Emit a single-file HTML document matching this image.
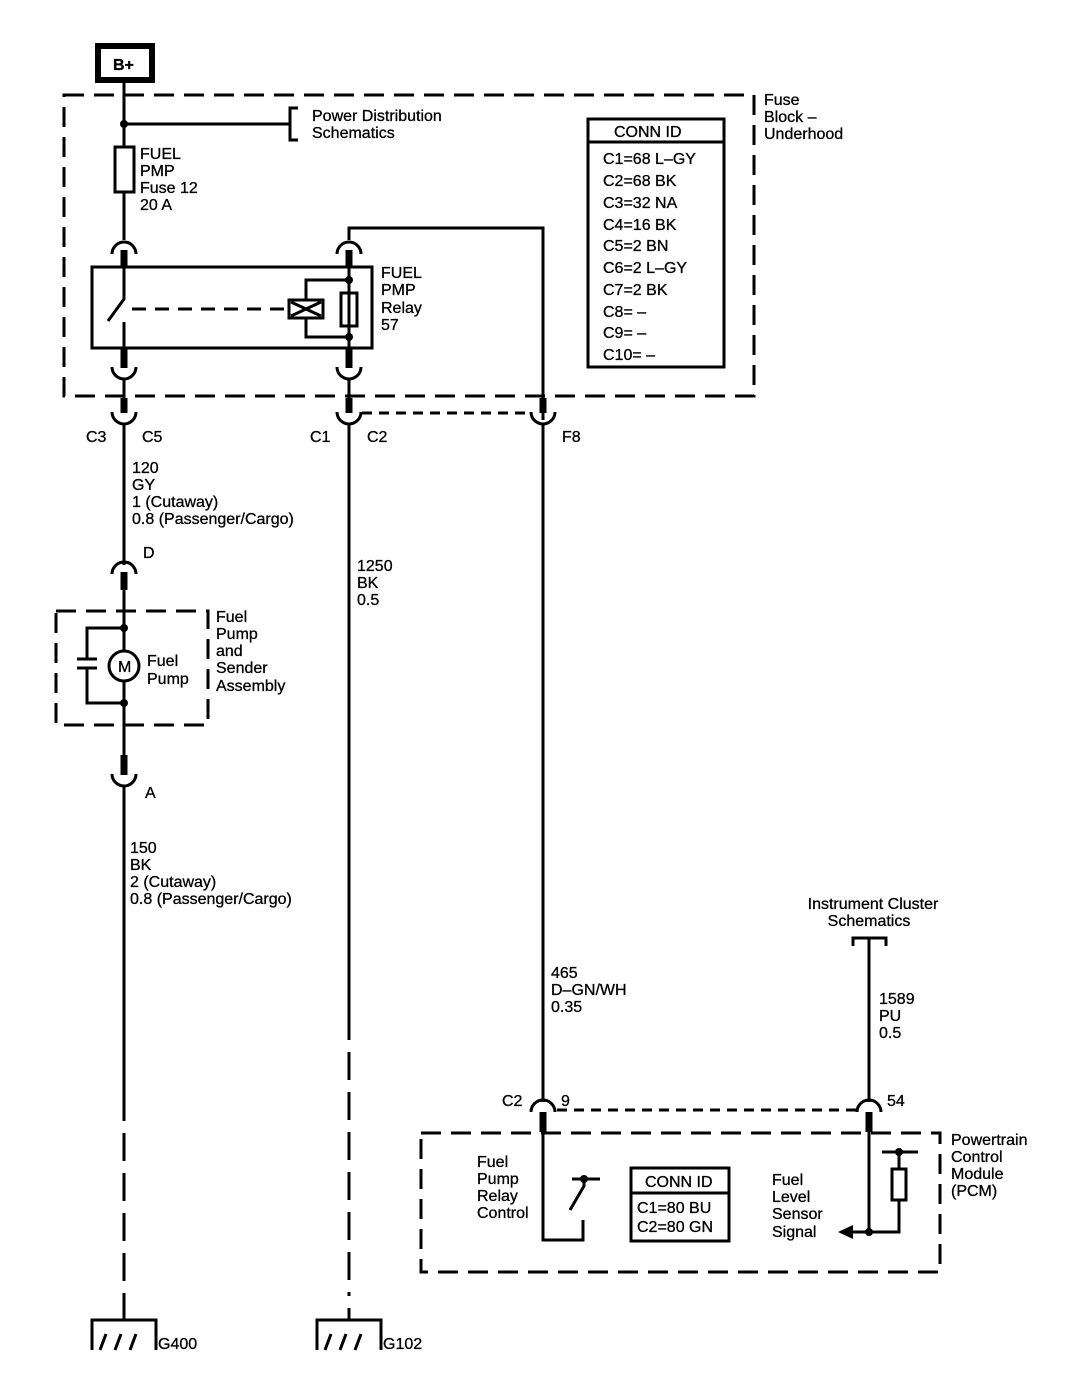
<!DOCTYPE html>
<html><head><meta charset="utf-8"><style>
html,body{margin:0;padding:0;background:#fff}
svg{display:block}
text{font-family:"Liberation Sans",sans-serif;font-size:16px;fill:#000;stroke:#000;stroke-width:0.3}
</style></head><body>
<svg width="1084" height="1392" viewBox="0 0 1084 1392" xmlns="http://www.w3.org/2000/svg">
<g fill="none" stroke="#000">
<rect x="98" y="46" width="54" height="34" stroke-width="6"/>
<rect x="64" y="95" width="690" height="301" stroke-width="3" stroke-dasharray="20,10"/>
<line x1="124" y1="80" x2="124" y2="147" stroke-width="3"/>
<line x1="124" y1="124" x2="290" y2="124" stroke-width="3"/>
<path d="M298 108 H290 V140 H298" stroke-width="3"/>
<rect x="115" y="147" width="19" height="45" stroke-width="3"/>
<line x1="124" y1="192" x2="124" y2="240" stroke-width="3"/>
<path d="M112 254 A12 12 0 0 1 136 254" stroke-width="3"/>
<path d="M337 254 A12 12 0 0 1 361 254" stroke-width="3"/>
<path d="M349 240 V228 H543 V420" stroke-width="3"/>
<line x1="124" y1="250" x2="124" y2="268" stroke-width="7"/>
<line x1="349" y1="250" x2="349" y2="268" stroke-width="7"/>
<rect x="92" y="267" width="280" height="81" stroke-width="3"/>
<path d="M124 268 V299 L108 321 M124 322 V348" stroke-width="3"/>
<line x1="132" y1="309" x2="288" y2="309" stroke-width="3" stroke-dasharray="14,9"/>
<rect x="289" y="300" width="34" height="18" stroke-width="3"/>
<path d="M291 302 L321 316 M291 316 L321 302" stroke-width="3"/>
<path d="M306 300 V280 H349 M306 318 V337 H349" stroke-width="3"/>
<line x1="349" y1="268" x2="349" y2="348" stroke-width="3"/>
<rect x="341" y="293" width="16" height="33" stroke-width="3"/>
<line x1="124" y1="348" x2="124" y2="368" stroke-width="7"/>
<line x1="349" y1="348" x2="349" y2="368" stroke-width="7"/>
<path d="M112 367 A12 12 0 0 0 136 367" stroke-width="3"/>
<path d="M337 367 A12 12 0 0 0 361 367" stroke-width="3"/>
<line x1="124" y1="379" x2="124" y2="400" stroke-width="3"/>
<line x1="349" y1="379" x2="349" y2="400" stroke-width="3"/>
<line x1="124" y1="398" x2="124" y2="413" stroke-width="7"/>
<line x1="349" y1="398" x2="349" y2="413" stroke-width="7"/>
<line x1="543" y1="398" x2="543" y2="413" stroke-width="7"/>
<path d="M112 412 A12 12 0 0 0 136 412" stroke-width="3"/>
<path d="M337 412 A12 12 0 0 0 361 412" stroke-width="3"/>
<path d="M531 412 A12 12 0 0 0 555 412" stroke-width="3"/>
<line x1="362" y1="413" x2="531" y2="413" stroke-width="3" stroke-dasharray="10,7"/>
<rect x="588" y="119" width="136" height="248" stroke-width="3"/>
<line x1="588" y1="142" x2="724" y2="142" stroke-width="3"/>
<line x1="124" y1="424" x2="124" y2="565" stroke-width="3"/>
<path d="M112 574 A12 12 0 0 1 136 574" stroke-width="3"/>
<line x1="124" y1="572" x2="124" y2="590" stroke-width="7"/>
<line x1="124" y1="590" x2="124" y2="628" stroke-width="3"/>
<rect x="56" y="611" width="152" height="114" stroke-width="3" stroke-dasharray="20,10"/>
<path d="M124 628 H87 V659 M77 659 H97 M77 668 H97 M87 668 V703 H124" stroke-width="3"/>
<line x1="124" y1="628" x2="124" y2="651" stroke-width="3"/>
<circle cx="124" cy="666" r="15" stroke-width="3"/>
<line x1="124" y1="681" x2="124" y2="755" stroke-width="3"/>
<line x1="124" y1="755" x2="124" y2="775" stroke-width="7"/>
<path d="M112 774 A12 12 0 0 0 136 774" stroke-width="3"/>
<line x1="124" y1="786" x2="124" y2="1093" stroke-width="3"/>
<line x1="124" y1="1093" x2="124" y2="1306" stroke-width="3" stroke-dasharray="28,12"/>
<line x1="124" y1="1306" x2="124" y2="1320" stroke-width="3"/>
<line x1="349" y1="424" x2="349" y2="1012" stroke-width="3"/>
<line x1="349" y1="1012" x2="349" y2="1296" stroke-width="3" stroke-dasharray="28,12"/>
<line x1="349" y1="1308" x2="349" y2="1320" stroke-width="3"/>
<path d="M92 1350 V1320 H156 V1350" stroke-width="3"/>
<path d="M100 1350 L106 1334 M115 1350 L121 1334 M130 1350 L136 1334" stroke-width="3"/>
<path d="M317 1350 V1320 H381 V1350" stroke-width="3"/>
<path d="M325 1350 L331 1334 M340 1350 L346 1334 M355 1350 L361 1334" stroke-width="3"/>
<line x1="543" y1="424" x2="543" y2="1102" stroke-width="3"/>
<path d="M853 946 V938 H886 V946" stroke-width="3"/>
<line x1="869" y1="938" x2="869" y2="1102" stroke-width="3"/>
<path d="M531 1112 A12 12 0 0 1 555 1112" stroke-width="3"/>
<path d="M857 1112 A12 12 0 0 1 881 1112" stroke-width="3"/>
<line x1="557" y1="1110" x2="856" y2="1110" stroke-width="3" stroke-dasharray="10,7"/>
<line x1="543" y1="1112" x2="543" y2="1132" stroke-width="7"/>
<line x1="869" y1="1112" x2="869" y2="1132" stroke-width="7"/>
<rect x="421" y="1133" width="519" height="139" stroke-width="3" stroke-dasharray="20,10"/>
<path d="M543 1132 V1240 H583 V1220" stroke-width="3"/>
<path d="M570 1210 L584 1186 V1179 M572 1179 H600" stroke-width="3"/>
<rect x="631" y="1168" width="98" height="73" stroke-width="3"/>
<line x1="631" y1="1193" x2="729" y2="1193" stroke-width="3"/>
<path d="M869 1132 V1232 H899 V1200 M899 1169 V1152 M882 1152 H918" stroke-width="3"/>
<line x1="852" y1="1232" x2="869" y2="1232" stroke-width="3"/>
<rect x="892" y="1169" width="14" height="31" stroke-width="3"/>
</g>
<g fill="#000">
<circle cx="124" cy="124" r="4"/>
<circle cx="349" cy="280" r="4"/>
<circle cx="349" cy="337" r="4"/>
<circle cx="124" cy="628" r="4"/>
<circle cx="124" cy="703" r="4"/>
<circle cx="869" cy="1232" r="4"/>
<circle cx="899" cy="1152" r="4"/>
<circle cx="584" cy="1179" r="4"/>
<polygon points="838,1232 853,1225 853,1239"/>
</g>
<text x="113" y="70" font-size="17" font-weight="bold">B+</text>
<text x="312" y="121">Power Distribution</text>
<text x="312" y="138">Schematics</text>
<text x="764" y="105">Fuse</text>
<text x="764" y="122">Block –</text>
<text x="764" y="139">Underhood</text>
<text x="140" y="159">FUEL</text>
<text x="140" y="176">PMP</text>
<text x="140" y="193">Fuse 12</text>
<text x="140" y="210">20 A</text>
<text x="381" y="278">FUEL</text>
<text x="381" y="295">PMP</text>
<text x="381" y="313">Relay</text>
<text x="381" y="330">57</text>
<text x="614" y="137">CONN ID</text>
<text x="603" y="164">C1=68 L–GY</text>
<text x="603" y="186">C2=68 BK</text>
<text x="603" y="208">C3=32 NA</text>
<text x="603" y="230">C4=16 BK</text>
<text x="603" y="251">C5=2 BN</text>
<text x="603" y="273">C6=2 L–GY</text>
<text x="603" y="295">C7=2 BK</text>
<text x="603" y="317">C8= –</text>
<text x="603" y="338">C9= –</text>
<text x="603" y="360">C10= –</text>
<text x="86" y="442">C3</text>
<text x="142" y="442">C5</text>
<text x="310" y="442">C1</text>
<text x="367" y="442">C2</text>
<text x="562" y="442">F8</text>
<text x="132" y="473">120</text>
<text x="132" y="490">GY</text>
<text x="132" y="507">1 (Cutaway)</text>
<text x="132" y="524">0.8 (Passenger/Cargo)</text>
<text x="143" y="558">D</text>
<text x="357" y="571">1250</text>
<text x="357" y="588">BK</text>
<text x="357" y="605">0.5</text>
<text x="216" y="622">Fuel</text>
<text x="216" y="639">Pump</text>
<text x="216" y="656">and</text>
<text x="216" y="673">Sender</text>
<text x="216" y="691">Assembly</text>
<text x="118" y="672" font-size="15">M</text>
<text x="147" y="666">Fuel</text>
<text x="147" y="684">Pump</text>
<text x="145" y="798">A</text>
<text x="130" y="853">150</text>
<text x="130" y="870">BK</text>
<text x="130" y="887">2 (Cutaway)</text>
<text x="130" y="904">0.8 (Passenger/Cargo)</text>
<text x="873" y="909" text-anchor="middle">Instrument Cluster</text>
<text x="869" y="926" text-anchor="middle">Schematics</text>
<text x="551" y="978">465</text>
<text x="551" y="995">D–GN/WH</text>
<text x="551" y="1012">0.35</text>
<text x="879" y="1004">1589</text>
<text x="879" y="1021">PU</text>
<text x="879" y="1038">0.5</text>
<text x="502" y="1106">C2</text>
<text x="561" y="1106">9</text>
<text x="887" y="1106">54</text>
<text x="951" y="1145">Powertrain</text>
<text x="951" y="1162">Control</text>
<text x="951" y="1179">Module</text>
<text x="951" y="1196">(PCM)</text>
<text x="477" y="1167">Fuel</text>
<text x="477" y="1184">Pump</text>
<text x="477" y="1201">Relay</text>
<text x="477" y="1218">Control</text>
<text x="645" y="1187">CONN ID</text>
<text x="637" y="1213">C1=80 BU</text>
<text x="637" y="1232">C2=80 GN</text>
<text x="772" y="1185">Fuel</text>
<text x="772" y="1202">Level</text>
<text x="772" y="1219">Sensor</text>
<text x="772" y="1237">Signal</text>
<text x="158" y="1349">G400</text>
<text x="383" y="1349">G102</text>
</svg>
</body></html>
